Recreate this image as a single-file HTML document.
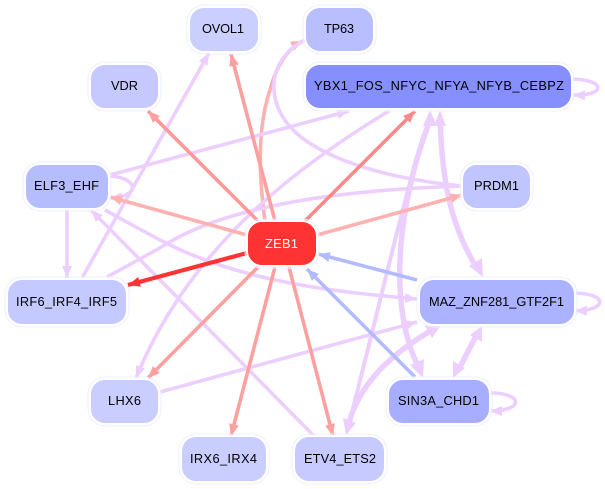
<!DOCTYPE html>
<html><head><meta charset="utf-8"><style>
html,body{margin:0;padding:0;background:#fff}
svg{display:block}
text{font-family:"Liberation Sans",sans-serif;font-size:12.8px;text-anchor:middle;fill:#000}
.e{fill:none;stroke-linecap:butt}
.p{stroke:#ECCFFF;stroke-width:3.6;marker-end:url(#mp)}
.o{stroke:#ECCFFF;stroke-width:3.6}
.t{stroke:#ECCFFF;stroke-width:5.5}
.n{stroke:#fff;stroke-width:2}
.h{fill:none;stroke:#EEF0FF;stroke-width:1}
</style></head><body>
<svg width="605" height="489" viewBox="0 0 605 489" xmlns="http://www.w3.org/2000/svg">
<defs>
<marker id="mp" markerUnits="userSpaceOnUse" markerWidth="14" markerHeight="12" refX="12" refY="5" orient="auto"><path d="M0 0L12 5L0 10z" fill="#ECCFFF"/></marker>
<marker id="a1" markerUnits="userSpaceOnUse" markerWidth="14" markerHeight="12" refX="12" refY="5" orient="auto"><path d="M0 0L12 5L0 10z" fill="#FFA0A0"/></marker>
<marker id="a2" markerUnits="userSpaceOnUse" markerWidth="14" markerHeight="12" refX="12" refY="5" orient="auto"><path d="M0 0L12 5L0 10z" fill="#FFB0B0"/></marker>
<marker id="a3" markerUnits="userSpaceOnUse" markerWidth="14" markerHeight="12" refX="12" refY="5" orient="auto"><path d="M0 0L12 5L0 10z" fill="#FF8888"/></marker>
<marker id="a4" markerUnits="userSpaceOnUse" markerWidth="14" markerHeight="12" refX="12" refY="5" orient="auto"><path d="M0 0L12 5L0 10z" fill="#FF3333"/></marker>
<marker id="a5" markerUnits="userSpaceOnUse" markerWidth="14" markerHeight="12" refX="12" refY="5" orient="auto"><path d="M0 0L12 5L0 10z" fill="#B3BBFF"/></marker>
</defs>

<path class="e" d="M265 221C258 170 258 125 270 90C276 66 288 48 303 41" stroke="#FFB0B0" stroke-width="3.6" marker-end="url(#a2)"/>

<!-- purple edges -->
<path class="e p" d="M82 278L209 53"/>
<path class="e p" d="M110 175L349 111"/>
<path class="e o" d="M462 186C370 189 240 200 168 243C150 254 125 267 107 277"/>
<path class="e p" d="M389 111C300 165 190 245 136 378"/>
<path class="e o" d="M462 186C400 180 340 165 305 140C265 112 262 62 305 40"/>
<path class="e p" d="M105 210C125 221 150 235 168 244C240 280 330 292 417 299"/>
<path class="e p" d="M314 436L91 210"/>
<path class="e p" d="M160 392L417 322"/>
<path class="e p" d="M67 210L67 278"/>
<path class="e p" d="M110 176C138 178 142 196 110 198"/>
<path class="e p" d="M573 79C606 80 606 96 573 95"/>
<path class="e p" d="M575 293C608 294 608 310 575 311"/>
<path class="e p" d="M490 393C524 393 524 411 490 411"/>

<!-- thick purple -->
<path class="e t" d="M431 118C410 170 396 240 347 432" style="stroke-width:4"/>
<path class="e t" d="M431 118C402 190 384 300 419 368"/>
<path class="e t" d="M440 118C442 180 450 225 478 270"/>
<path class="e t" d="M432 330C395 352 360 380 348 426"/>
<path class="e t" d="M477 334L459 369"/>
<polygon points="430,110 423,126 437,126" fill="#ECCFFF"/>
<polygon points="440,110 434,126 446,126" fill="#ECCFFF"/>
<polygon points="423,378 410,365 424,359" fill="#ECCFFF"/>
<polygon points="483,277 469,266 482,258" fill="#ECCFFF"/>
<polygon points="441,325 425,326 432,338" fill="#ECCFFF"/>
<polygon points="346,435 343,418 356,423" fill="#ECCFFF"/>
<polygon points="482,326 470,335 482,342" fill="#ECCFFF"/>
<polygon points="453,378 453,361 465,368" fill="#ECCFFF"/>

<path class="e" d="M275 221L231 54" stroke="#FFA0A0" stroke-width="3.6" marker-end="url(#a1)"/>
<path class="e" d="M258 221L148 111" stroke="#FF9999" stroke-width="3.6" marker-end="url(#a1)"/>
<path class="e" d="M247 235L110 197" stroke="#FFB0B0" stroke-width="3.6" marker-end="url(#a2)"/>
<path class="e" d="M305 221L415 111" stroke="#FF8888" stroke-width="3.6" marker-end="url(#a3)"/>
<path class="e" d="M317 235L462 195" stroke="#FFB0B0" stroke-width="3.6" marker-end="url(#a2)"/>
<path class="e" d="M247 253L128 285" stroke="#FF3333" stroke-width="4.2" marker-end="url(#a4)"/>
<path class="e" d="M258 267L148 378" stroke="#FFA0A0" stroke-width="3.6" marker-end="url(#a1)"/>
<path class="e" d="M275 267L231 436" stroke="#FFA0A0" stroke-width="3.6" marker-end="url(#a1)"/>
<path class="e" d="M289 267L333 436" stroke="#FFA0A0" stroke-width="3.6" marker-end="url(#a1)"/>
<path class="e" d="M417 280L318 254" stroke="#B3BBFF" stroke-width="3.6" marker-end="url(#a5)"/>
<path class="e" d="M415 377L307 269" stroke="#B3BBFF" stroke-width="3.6" marker-end="url(#a5)"/>

<!-- nodes -->
<g>
<rect class="h" x="187" y="5" width="74" height="49" rx="17"/><rect class="n" x="189" y="7" width="70" height="45" rx="15" fill="#CBCFFF"/><text x="223" y="33" textLength="42">OVOL1</text>
<rect class="h" x="88" y="62" width="73" height="49" rx="17"/><rect class="n" x="90" y="64" width="69" height="45" rx="15" fill="#C5C9FF"/><text x="124.500" y="90" textLength="27">VDR</text>
<rect class="h" x="23" y="162" width="88" height="49" rx="17"/><rect class="n" x="25" y="164" width="84" height="45" rx="15" fill="#B6BDFF"/><text x="66.500" y="190" textLength="65">ELF3_EHF</text>
<rect class="h" x="303" y="5" width="73" height="49" rx="17"/><rect class="n" x="305" y="7" width="69" height="45" rx="15" fill="#B8BEFF"/><text x="339" y="33" textLength="30">TP63</text>
<rect class="h" x="303" y="62" width="271" height="49" rx="17"/><rect class="n" x="305" y="64" width="267" height="45" rx="15" fill="#858FFF"/><text x="439" y="90" textLength="250">YBX1_FOS_NFYC_NFYA_NFYB_CEBPZ</text>
<rect class="h" x="460" y="162" width="73" height="49" rx="17"/><rect class="n" x="462" y="164" width="69" height="45" rx="15" fill="#C0C5FF"/><text x="496.500" y="190" textLength="45">PRDM1</text>
<rect class="h" x="245" y="219" width="74" height="49" rx="17"/><rect class="n" x="247" y="221" width="70" height="45" rx="15" fill="#FF3333"/><text x="281.500" y="248" textLength="33" style="fill:#fff">ZEB1</text>
<rect class="h" x="5" y="277" width="124" height="50" rx="17"/><rect class="n" x="7" y="279" width="120" height="46" rx="15" fill="#C4CAFF"/><text x="66.500" y="306" textLength="101">IRF6_IRF4_IRF5</text>
<rect class="h" x="88" y="377" width="73" height="49" rx="17"/><rect class="n" x="90" y="379" width="69" height="45" rx="15" fill="#C9CDFF"/><text x="124.500" y="405" textLength="33">LHX6</text>
<rect class="h" x="179" y="434" width="90" height="50" rx="17"/><rect class="n" x="181" y="436" width="86" height="46" rx="15" fill="#CACEFF"/><text x="223.500" y="463" textLength="67">IRX6_IRX4</text>
<rect class="h" x="292" y="434" width="95" height="50" rx="17"/><rect class="n" x="294" y="436" width="91" height="46" rx="15" fill="#C6CAFF"/><text x="340" y="463" textLength="72">ETV4_ETS2</text>
<rect class="h" x="386" y="377" width="106" height="49" rx="17"/><rect class="n" x="388" y="379" width="102" height="45" rx="15" fill="#A8AEFF"/><text x="438.500" y="405" textLength="81">SIN3A_CHD1</text>
<rect class="h" x="417" y="277" width="160" height="50" rx="17"/><rect class="n" x="419" y="279" width="156" height="46" rx="15" fill="#ABB2FF"/><text x="496.500" y="306" textLength="135">MAZ_ZNF281_GTF2F1</text>
</g>
</svg>
</body></html>
